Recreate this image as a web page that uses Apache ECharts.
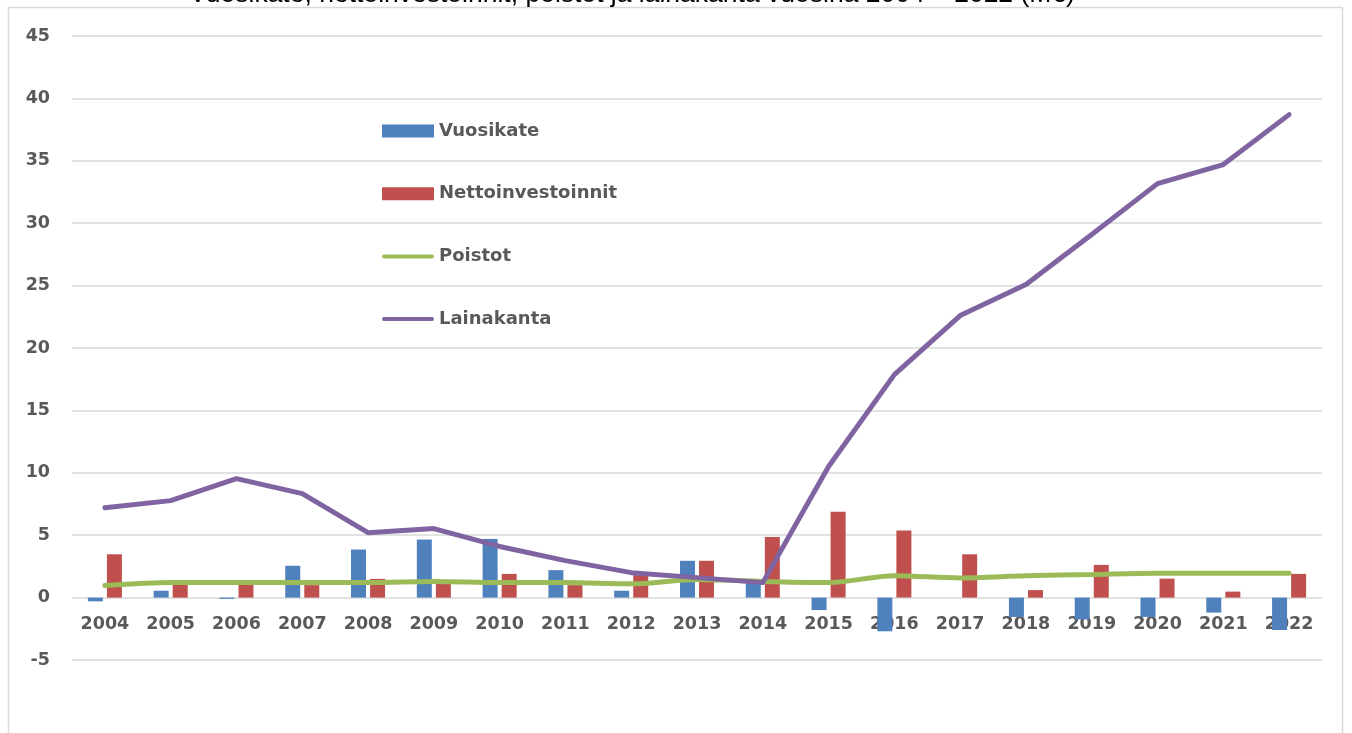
<!DOCTYPE html>
<html>
<head>
<meta charset="utf-8">
<script src="https://cdn.jsdelivr.net/npm/echarts@6/dist/echarts.min.js"></script>
<style>
  html, body { margin: 0; padding: 0; background: #fff; }
  #chart { width: 1352px; height: 733px; }
</style>
</head>
<body>
<div id="chart"></div>
<script>
// Vuodet
const years = ['2004', '2005', '2006', '2007', '2008', '2009', '2010', '2011', '2012', '2013',
  '2014', '2015', '2016', '2017', '2018', '2019', '2020', '2021', '2022']

// M€
const vuosikate = [-0.3, 0.55, -0.1, 2.55, 3.85, 4.65, 4.7, 2.2, 0.55, 2.95,
  1.3, -1.0, -2.7, 0, -1.55, -1.75, -1.55, -1.2, -2.6]
const nettoinvestoinnit = [3.47, 1.1, 1.1, 1.0, 1.5, 1.1, 1.9, 1.0, 1.8, 2.95,
  4.86, 6.87, 5.37, 3.47, 0.6, 2.62, 1.52, 0.48, 1.9]
const poistot = [0.96, 1.2, 1.2, 1.2, 1.2, 1.3, 1.2, 1.2, 1.1, 1.45,
  1.3, 1.2, 1.76, 1.58, 1.75, 1.85, 1.95, 1.95, 1.95]
const lainakanta = [7.2, 7.77, 9.53, 8.33, 5.2, 5.53, 4.1, 2.96, 2.0, 1.6,
  1.2, 10.5, 17.87, 22.6, 25.08, 29.1, 33.17, 34.7, 38.7]

const chart = echarts.init(document.getElementById('chart'))

const labelFont = {
  fontFamily: 'DejaVu Sans',
  fontWeight: 'bold',
  fontSize: 17.5,
  color: '#595959'
}

// ohut pyöristetty viiva selitteeseen (laatikko 52x13)
const lineIcon = 'path://M0,0 L0.01,0 M0,13 L0.01,13 M2,4.5 L50,4.5 A2,2 0 0 1 50,8.5 L2,8.5 A2,2 0 0 1 2,4.5 Z'

chart.setOption({
  animation: false,
  title: {
    text: 'Vuosikate, nettoinvestoinnit, poistot ja lainakanta vuosina 2004 – 2022 (M€)',
    left: 627,
    textAlign: 'center',
    top: -24,
    textStyle: {
      fontFamily: 'Liberation Sans',
      fontWeight: 'normal',
      fontSize: 26.5,
      color: '#000'
    }
  },
  graphic: [{
    type: 'rect',
    shape: { x: 8.5, y: 7.5, width: 1334, height: 760 },
    style: { fill: null, stroke: '#d9d9d9', lineWidth: 1.5 },
    silent: true
  }],
  legend: {
    orient: 'vertical',
    left: 382,
    top: 122,
    padding: 0,
    itemWidth: 52,
    itemHeight: 13,
    itemGap: 44.7,
    textStyle: { ...labelFont, fontSize: 18 },
    data: [
      { name: 'Vuosikate', icon: 'rect' },
      { name: 'Nettoinvestoinnit', icon: 'rect' },
      { name: 'Poistot', icon: lineIcon },
      { name: 'Lainakanta', icon: lineIcon }
    ]
  },
  grid: { left: 72, right: 30, top: 36, bottom: 73 },
  xAxis: {
    type: 'category',
    data: years,
    offset: -62.4,
    axisLine: { show: false },
    axisTick: { show: false },
    axisLabel: { ...labelFont, margin: 18 }
  },
  yAxis: {
    type: 'value',
    min: -5,
    max: 45,
    interval: 5,
    axisLine: { show: false },
    axisTick: { show: false },
    axisLabel: { ...labelFont, margin: 22 },
    splitLine: { lineStyle: { color: '#d9d9d9', width: 1.5 } }
  },
  series: [
    {
      name: 'Vuosikate',
      type: 'bar',
      data: vuosikate,
      barWidth: 15,
      barGap: '27%',
      itemStyle: { color: '#4f81bd' }
    },
    {
      name: 'Nettoinvestoinnit',
      type: 'bar',
      data: nettoinvestoinnit,
      barWidth: 15,
      barGap: '27%',
      itemStyle: { color: '#c0504d' }
    },
    {
      name: 'Poistot',
      type: 'line',
      data: poistot,
      symbol: 'none',
      smooth: 0.3,
      lineStyle: { color: '#9bbb59', width: 5, cap: 'round' },
      itemStyle: { color: '#9bbb59' }
    },
    {
      name: 'Lainakanta',
      type: 'line',
      data: lainakanta,
      symbol: 'none',
      lineStyle: { color: '#8064a2', width: 5, cap: 'round', join: 'round' },
      itemStyle: { color: '#8064a2' }
    }
  ]
})

window.addEventListener('resize', () => {
  chart.resize()
})
</script>
</body>
</html>
